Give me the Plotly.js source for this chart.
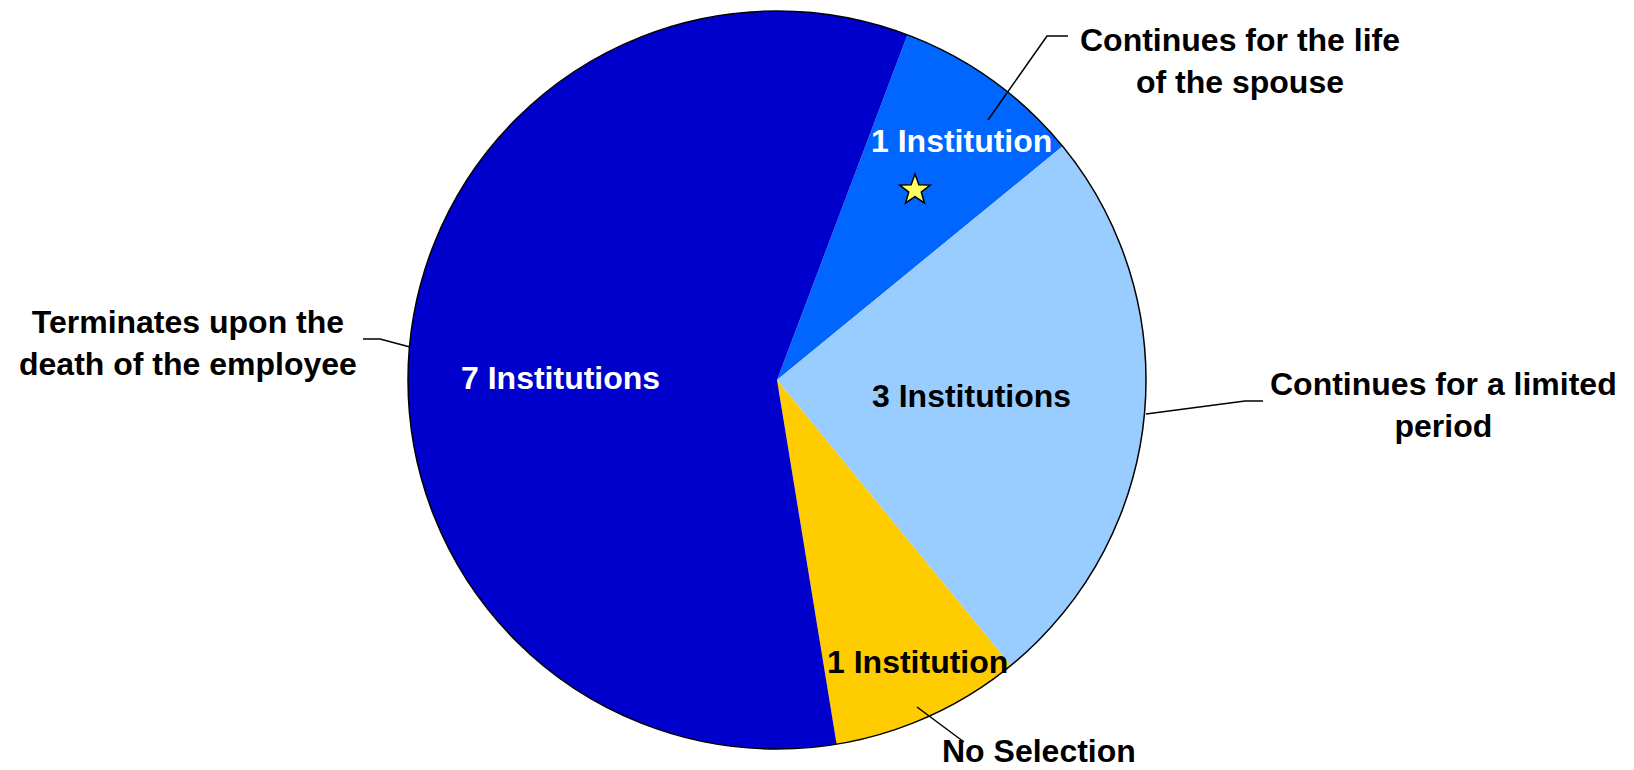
<!DOCTYPE html>
<html><head><meta charset="utf-8">
<script src="https://cdn.plot.ly/plotly-3.0.1.min.js"></script>
<style>html,body{margin:0;padding:0;background:#fff}</style>
</head><body>
<div id="chart" style="width:1634px;height:770px"></div>
<script>
// Data
var categories = ["Continues for the life<br>of the spouse", "Continues for a limited<br>period", "No Selection", "Terminates upon the<br>death of the employee"];
var counts = [1, 3, 1, 7];
var sliceLabels = ["1 Institution", "3 Institutions", "1 Institution", "7 Institutions"];
var colors = ["#0066FF", "#99CCFF", "#FFCC00", "#0000CC"];
var insideTextColors = ["#FFFFFF", "#000000", "#000000", "#FFFFFF"];

var W = 1634, H = 770;
var cx = 777, cy = 380, R = 369;
function px(x){ return x / W; }
function py(y){ return 1 - y / H; }

var FONT = "Liberation Sans, Arial, sans-serif";
var FS = 32;

var pie = {
  type: "pie",
  values: counts,
  labels: categories,
  sort: false,
  direction: "clockwise",
  rotation: 20.7,
  marker: {colors: colors, line: {width: 0}},
  textinfo: "none",
  hoverinfo: "label+value",
  domain: {x: [px(cx - R), px(cx + R)], y: [py(cy + R), py(cy - R)]},
  showlegend: false
};

// label placements (pixels)
var innerPos = [[961, 141], [971, 396], [917, 662], [560, 378]];
var outerPos = [[1240, 61], [1443, 405], [1039, 751], [188, 343]];
var leaders = [
  [[988,120],[1047,36],[1068,36]],
  [[1146,414],[1245,401],[1263,401]],
  [[917,707],[964,742]],
  [[363,339],[380,339],[410,347]]
];

var annotations = [];
for (var i = 0; i < counts.length; i++) {
  annotations.push({
    xref: "paper", yref: "paper", x: px(innerPos[i][0]), y: py(innerPos[i][1]),
    xanchor: "center", yanchor: "middle", showarrow: false,
    text: "<b>" + sliceLabels[i] + "</b>",
    font: {family: FONT, size: FS, color: insideTextColors[i]}
  });
  annotations.push({
    xref: "paper", yref: "paper", x: px(outerPos[i][0]), y: py(outerPos[i][1]),
    xanchor: "center", yanchor: "middle", showarrow: false, align: "center",
    text: "<b>" + categories[i].replace("<br>", "</b><br><b>") + "</b>",
    font: {family: FONT, size: FS, color: "#000"}
  });
}

var shapes = [{
  type: "circle", xref: "paper", yref: "paper",
  x0: px(cx - R), x1: px(cx + R), y0: py(cy + R), y1: py(cy - R),
  line: {color: "#000", width: 1.5}, fillcolor: "rgba(0,0,0,0)", layer: "above"
}];
leaders.forEach(function(pts){
  var d = "M " + pts.map(function(p){ return px(p[0]) + "," + py(p[1]); }).join(" L ");
  shapes.push({type: "path", xref: "paper", yref: "paper", path: d, line: {color: "#000", width: 1.5}});
});

// star decoration
(function(){
  var sx = 915, sy = 188, ro = 16, ri = 6.6, pts = [];
  for (var k = 0; k < 10; k++) {
    var a = -Math.PI / 2 + k * Math.PI / 5;
    var r = (k % 2 === 0) ? ro : ri;
    pts.push(px(sx + r * Math.cos(a)) + "," + py(sy + 2 + r * Math.sin(a)));
  }
  shapes.push({type: "path", xref: "paper", yref: "paper", path: "M " + pts.join(" L ") + " Z",
    fillcolor: "#FFFF66", line: {color: "#000", width: 1.5}, layer: "above"});
})();

var layout = {
  width: W, height: H,
  margin: {l: 0, r: 0, t: 0, b: 0},
  paper_bgcolor: "#fff",
  annotations: annotations,
  shapes: shapes,
  font: {family: FONT}
};

Plotly.newPlot("chart", [pie], layout, {displayModeBar: false, staticPlot: true});
</script>
</body></html>
